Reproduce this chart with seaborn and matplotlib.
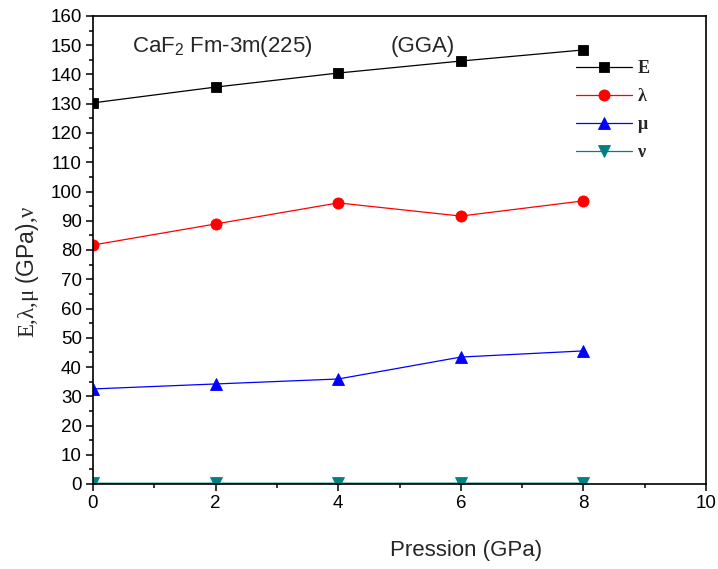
import matplotlib
matplotlib.use("Agg")
import matplotlib.pyplot as plt
from matplotlib.ticker import MultipleLocator
import pandas as pd
import seaborn as sns

# Elastic moduli of CaF2 versus pressure (GGA)
pressure = [0, 2, 4, 6, 8]
young_E = [130.3, 135.7, 140.5, 144.6, 148.4]
lame_lambda = [81.7, 88.9, 96.1, 91.6, 96.8]
shear_mu = [32.5, 34.2, 35.9, 43.4, 45.5]
poisson_nu = [0.26, 0.27, 0.27, 0.28, 0.28]
series_labels = ["E", "λ", "μ", "ν"]
x_ticks = [0, 2, 4, 6, 8, 10]
y_ticks = list(range(0, 161, 10))

sns.set_theme(style="ticks")
plt.rcParams["font.family"] = ["Liberation Sans", "DejaVu Sans"]
plt.rcParams["mathtext.fontset"] = "custom"
plt.rcParams["mathtext.rm"] = "Liberation Serif"
plt.rcParams["mathtext.it"] = "Liberation Serif:italic"
plt.rcParams["mathtext.bf"] = "Liberation Serif:bold"
plt.rcParams["mathtext.sf"] = "Liberation Sans"

df = pd.DataFrame({
    "P": pressure * 4,
    "value": young_E + lame_lambda + shear_mu + poisson_nu,
    "series": [s for s in series_labels for _ in pressure],
})

styles = {
    "E": dict(color="black", marker="s", markersize=7.2),
    "λ": dict(color="red", marker="o", markersize=8.0),
    "μ": dict(color="blue", marker="^", markersize=8.8),
    "ν": dict(color="#008080", marker="v", markersize=8.8),
}

fig = plt.figure(figsize=(7.18, 5.69), dpi=100)
ax = fig.add_axes([93 / 718, 1 - 484 / 569, 613 / 718, 468 / 569])

for name in series_labels:
    sub = df[df["series"] == name]
    st = styles[name]
    sns.lineplot(data=sub, x="P", y="value", ax=ax, label=name,
                 color=st["color"], marker=st["marker"],
                 markersize=st["markersize"], markeredgewidth=0.6,
                 markeredgecolor=st["color"], linewidth=0.9)

ax.set_xlim(0, 10)
ax.set_ylim(0, 160)
ax.set_xticks(x_ticks)
ax.set_yticks(y_ticks)
ax.xaxis.set_minor_locator(MultipleLocator(1))
ax.yaxis.set_minor_locator(MultipleLocator(5))
ax.tick_params(which="major", direction="out", length=5, width=1.1,
               labelsize=13.5, color="black", labelcolor="black", pad=3)
ax.tick_params(which="minor", direction="out", length=3, width=1.1,
               color="black")
ax.tick_params(top=False, right=False, which="both")
for sp in ax.spines.values():
    sp.set_visible(True)
    sp.set_linewidth(1.2)
    sp.set_color("black")
ax.set_facecolor("white")
ax.grid(False)

ax.set_xlabel("Pression (GPa)", fontsize=16, va="center")
ax.xaxis.set_label_coords(0.608, -0.143)
ax.set_ylabel(r"$\mathrm{E{,}λ{,}μ}\ \mathsf{(GPa)}\mathrm{{,}ν}$",
              fontsize=16.5, va="center")
ax.yaxis.set_label_coords(-0.107, 0.453)

ax.text(0.64, 147.7, r"CaF$_{\mathsf{2}}$ Fm-3m(225)", fontsize=16,
        ha="left", va="baseline")
ax.text(4.85, 147.7, "(GGA)", fontsize=16, ha="left", va="baseline")

leg = ax.legend(loc="upper left", bbox_to_anchor=(0.788, 0.905),
                frameon=False, borderpad=0, borderaxespad=0,
                handlelength=3.1, handletextpad=0.3, labelspacing=0.6,
                prop={"family": "Liberation Serif", "weight": "bold",
                      "size": 13})

fig.savefig("out.png", dpi=100, facecolor="white")
